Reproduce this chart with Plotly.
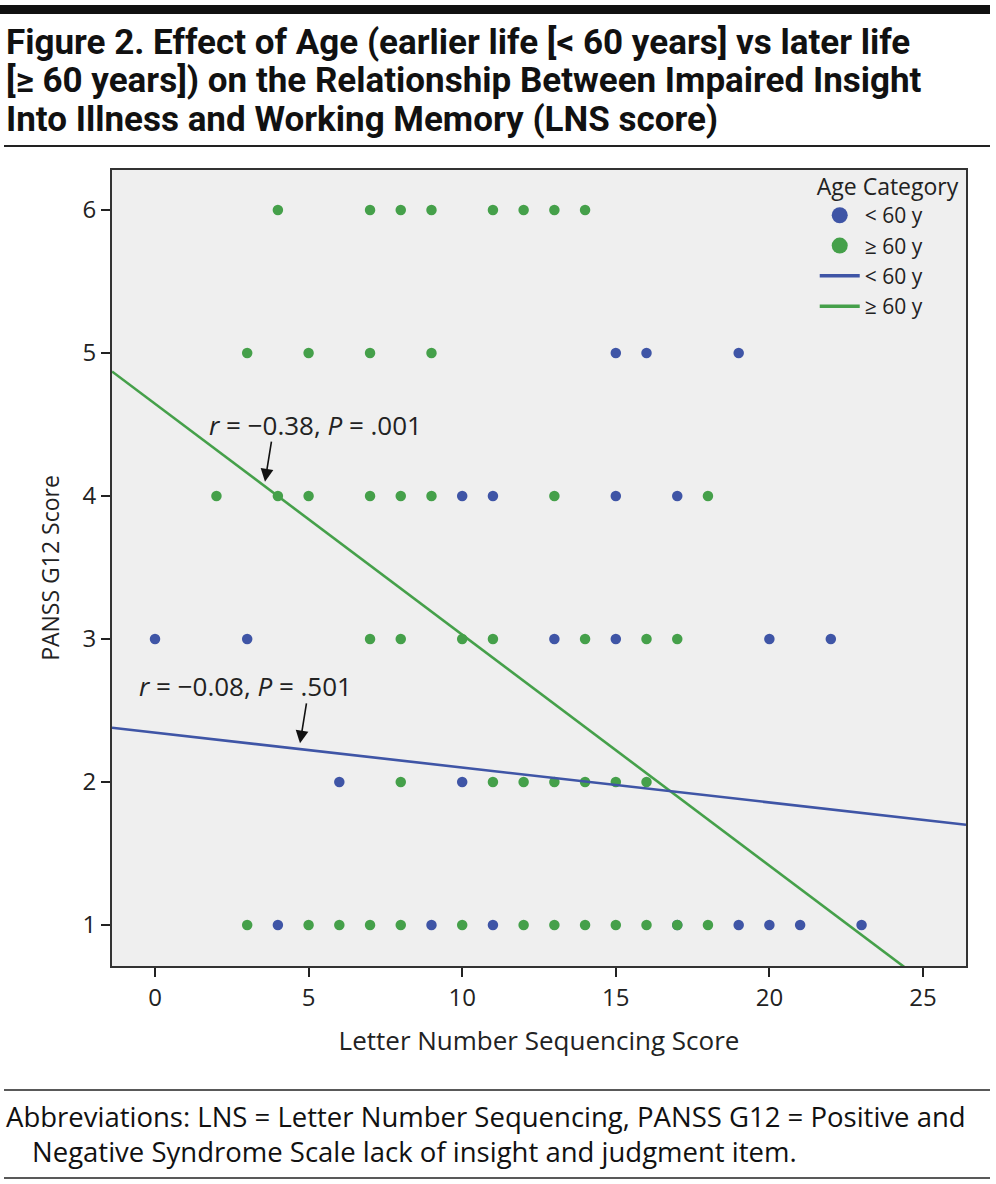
import plotly.graph_objects as go

# ---------------- data ----------------
# Age < 60 y  (blue)
young_x = [15, 16, 19,
           10, 11, 15, 17,
           0, 3, 13, 15, 20, 22,
           6, 10,
           4, 9, 11, 17, 19, 20, 21, 23]
young_y = [5, 5, 5,
           4, 4, 4, 4,
           3, 3, 3, 3, 3, 3,
           2, 2,
           1, 1, 1, 1, 1, 1, 1, 1]
# Age >= 60 y (green)
old_x = [4, 7, 8, 9, 11, 12, 13, 14,
         3, 5, 7, 9,
         2, 4, 5, 7, 8, 9, 13, 18,
         7, 8, 10, 11, 14, 16, 17,
         8, 11, 12, 13, 14, 15, 16,
         3, 5, 6, 7, 8, 10, 12, 13, 14, 15, 16, 17, 18]
old_y = [6, 6, 6, 6, 6, 6, 6, 6,
         5, 5, 5, 5,
         4, 4, 4, 4, 4, 4, 4, 4,
         3, 3, 3, 3, 3, 3, 3,
         2, 2, 2, 2, 2, 2, 2,
         1, 1, 1, 1, 1, 1, 1, 1, 1, 1, 1, 1, 1]

# fitted regression lines (intercept, slope)
young_fit = (2.345, -0.0244)
old_fit = (4.645, -0.1615)

x_range = [-1.4, 26.4]
y_range = [0.713, 6.28]
x_ticks = [0, 5, 10, 15, 20, 25]
y_ticks = [1, 2, 3, 4, 5, 6]

labels = ["< 60 y", "\u2265 60 y"]
stat_labels = ["<i>r</i> = \u22120.08, <i>P</i> = .501",
               "<i>r</i> = \u22120.38, <i>P</i> = .001"]
title_lines = ["Figure 2. Effect of Age (earlier life [< 60 years] vs later life",
               "[\u2265 60 years]) on the Relationship Between Impaired Insight",
               "Into Illness and Working Memory (LNS score)"]
foot_lines = ["Abbreviations: LNS = Letter Number Sequencing, PANSS G12 = Positive and",
              "Negative Syndrome Scale lack of insight and judgment item."]

BLUE = "#3f55a6"
GREEN = "#45a04a"
FONT = "Open Sans"
TFONT = "Roboto"

W, H = 996, 1184
L, R, T, B = 112, 30, 170, 218
PW, PH = W - L - R, H - T - B


def px(x):
    return (x - L) / PW


def py(y):
    return (H - B - y) / PH


fig = go.Figure()

# scatter points
fig.add_trace(go.Scatter(x=young_x, y=young_y, mode="markers", showlegend=False,
                         marker=dict(color=BLUE, size=10.5, symbol="circle")))
fig.add_trace(go.Scatter(x=old_x, y=old_y, mode="markers", showlegend=False,
                         marker=dict(color=GREEN, size=10.5, symbol="circle")))

# regression lines
for (b0, b1), col in [(old_fit, GREEN), (young_fit, BLUE)]:
    fig.add_trace(go.Scatter(x=x_range, y=[b0 + b1 * v for v in x_range], mode="lines",
                             showlegend=False, line=dict(color=col, width=2.6)))

# legend-only entries
for lab, col in zip(labels, [BLUE, GREEN]):
    fig.add_trace(go.Scatter(x=[None], y=[None], mode="markers", name=lab,
                             marker=dict(color=col, size=16)))
for lab, col in zip(labels, [BLUE, GREEN]):
    fig.add_trace(go.Scatter(x=[None], y=[None], mode="lines", name=lab,
                             line=dict(color=col, width=3.5)))

# stat annotations
fig.add_annotation(x=5.21, y=4.50, text=stat_labels[1], showarrow=False,
                   font=dict(family=FONT, size=26, color="#222"))
fig.add_annotation(x=3.58, y=4.10, text="", showarrow=True, ax=6.7, ay=-41.7,
                   arrowhead=2, arrowsize=1.6, arrowwidth=1.6, arrowcolor="#111")
fig.add_annotation(x=2.93, y=2.67, text=stat_labels[0], showarrow=False,
                   font=dict(family=FONT, size=26, color="#222"))
fig.add_annotation(x=4.72, y=2.27, text="", showarrow=True, ax=6.7, ay=-41.6,
                   arrowhead=2, arrowsize=1.6, arrowwidth=1.6, arrowcolor="#111")

# title
for i, line in enumerate(title_lines):
    fig.add_annotation(xref="paper", yref="paper", x=px(4), y=py(43 + 38 * i),
                       xanchor="left", yanchor="middle", showarrow=False, text="<b>" + line + "</b>",
                       font=dict(family=TFONT, size=35, color="#111"))
# footnote
fig.add_annotation(xref="paper", yref="paper", x=px(4), y=py(1116), xanchor="left", yanchor="middle",
                   showarrow=False, text=foot_lines[0], font=dict(family=FONT, size=27.5, color="#111"))
fig.add_annotation(xref="paper", yref="paper", x=px(30), y=py(1151), xanchor="left", yanchor="middle",
                   showarrow=False, text=foot_lines[1], font=dict(family=FONT, size=27.5, color="#111"))

# decorative rules
fig.add_shape(type="rect", xref="paper", yref="paper", x0=px(0), x1=px(990), y0=py(5), y1=py(14),
              fillcolor="#111", line_width=0)
for yy, w in [(146, 2), (1090, 1.5), (1178, 1.5)]:
    fig.add_shape(type="line", xref="paper", yref="paper", x0=px(4), x1=px(990), y0=py(yy), y1=py(yy),
                  line=dict(color="#222", width=w))

fig.update_layout(
    width=W, height=H,
    margin=dict(l=L, r=R, t=T, b=B),
    paper_bgcolor="white", plot_bgcolor="#efefef",
    font=dict(family=FONT, size=24, color="#222"),
    legend=dict(title=dict(text="Age Category", font=dict(size=23)), x=0.995, y=1.006,
                xanchor="right", yanchor="top", bgcolor="rgba(0,0,0,0)",
                font=dict(size=21), itemwidth=40, tracegroupgap=0),
)
fig.update_xaxes(range=x_range, tickvals=x_ticks, ticks="outside", ticklen=9, tickwidth=2,
                 tickcolor="#222", showline=True, linecolor="#333", linewidth=2, mirror=True,
                 showgrid=False, zeroline=False, tickfont=dict(size=24),
                 title=dict(text="Letter Number Sequencing Score", font=dict(size=26), standoff=20))
fig.update_yaxes(range=y_range, tickvals=y_ticks, ticks="outside", ticklen=9, tickwidth=2,
                 tickcolor="#222", showline=True, linecolor="#333", linewidth=2, mirror=True,
                 showgrid=False, zeroline=False, tickfont=dict(size=24),
                 title=dict(text="PANSS G12 Score", font=dict(size=23), standoff=16))

fig.write_html("out.html", config={"displayModeBar": False},
               post_script="document.body.style.margin='0';")
